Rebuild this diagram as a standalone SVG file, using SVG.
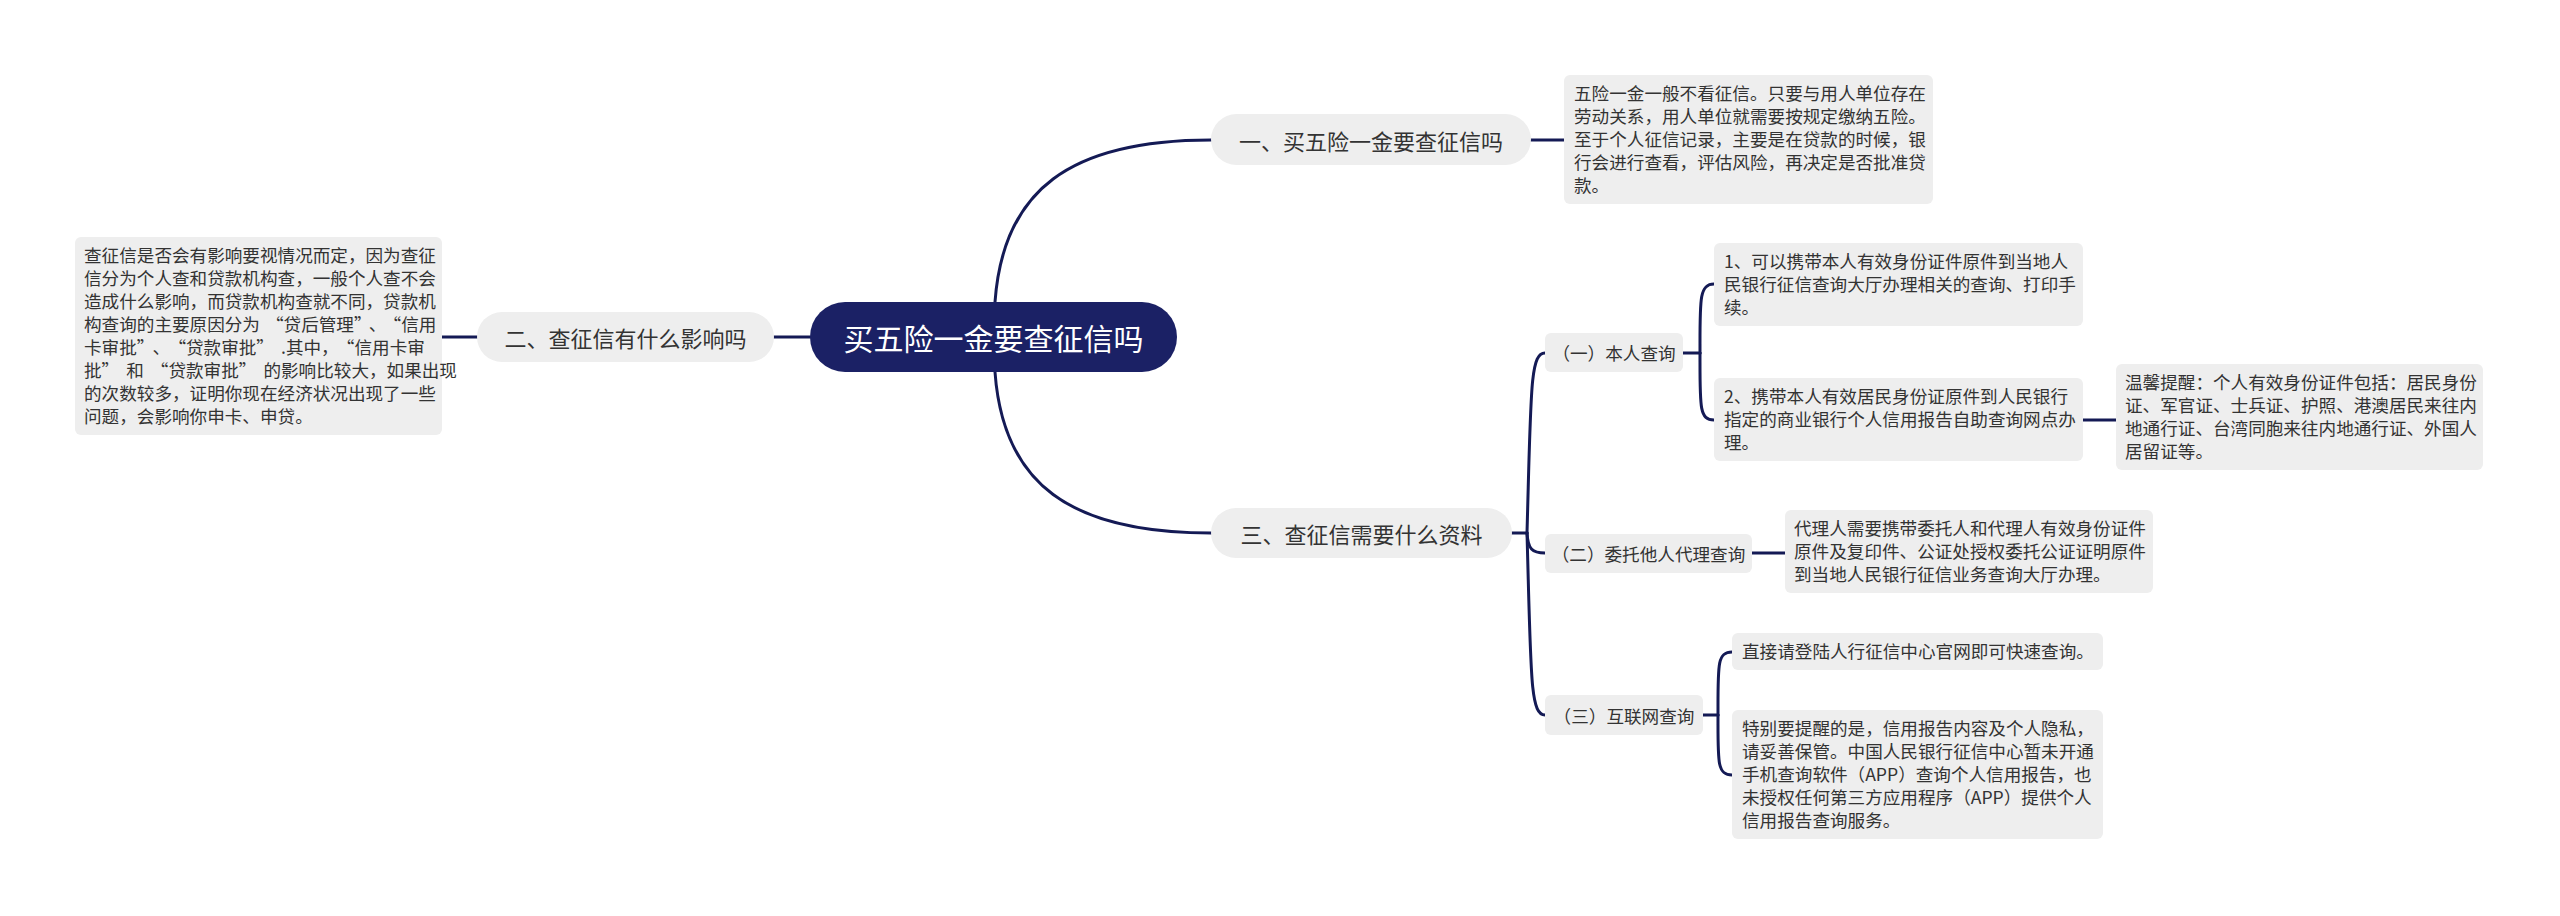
<svg xmlns="http://www.w3.org/2000/svg" width="2560" height="916" viewBox="0 0 2560 916">
<style>
.bg{fill:#ffffff}
.pill{fill:#eeeeee}
.box{fill:#eeeeee}
.root{fill:#1b2165}
.lk{fill:none;stroke:#141a55;stroke-width:3;stroke-linecap:round}
.t1{font-family:"Noto Sans CJK SC","Microsoft YaHei",sans-serif;font-size:22px;fill:#333333}
.t0{font-family:"Noto Sans CJK SC","Microsoft YaHei",sans-serif;font-size:30px;fill:#ffffff}
.t2{font-family:"Noto Sans CJK SC","Microsoft YaHei",sans-serif;font-size:17.6px;fill:#333333}
.tb{font-family:"Noto Sans CJK SC","Microsoft YaHei",sans-serif;font-size:17.6px;fill:#333333}
</style>
<rect class="bg" x="0" y="0" width="2560" height="916"/>
<g id="connectors">
<path class="lk" d="M 995 302 C 1003 190 1070 140 1211 140"/>
<path class="lk" d="M 995 372 C 1003 484 1070 533 1211 533"/>
<path class="lk" d="M 774 337 L 810 337"/>
<path class="lk" d="M 442 337 L 477 337"/>
<path class="lk" d="M 1531 140 L 1564 140"/>
<path class="lk" d="M 1512 533 L 1527 533"/>
<path class="lk" d="M 1527 533 C 1531 390 1530 353 1545 353"/>
<path class="lk" d="M 1527 533 C 1528 549 1532 553 1545 553"/>
<path class="lk" d="M 1527 533 C 1531 676 1530 715 1545 715"/>
<path class="lk" d="M 1683 353 L 1700 353"/>
<path class="lk" d="M 1700 353 C 1700 300 1699 284 1714 284"/>
<path class="lk" d="M 1700 353 C 1700 406 1699 420 1714 420"/>
<path class="lk" d="M 2083 420 L 2116 420"/>
<path class="lk" d="M 1752 553 L 1785 553"/>
<path class="lk" d="M 1703 715 L 1718 715"/>
<path class="lk" d="M 1718 715 C 1718 665 1717 652 1732 652"/>
<path class="lk" d="M 1718 715 C 1718 762 1717 775 1732 775"/>
</g>
<g id="root">
<rect class="root" x="810" y="302" width="367" height="70" rx="35"/>
<text class="t0" x="993.5" y="337" text-anchor="middle" dominant-baseline="central">买五险一金要查征信吗</text>
</g>
<g id="n1">
<rect class="pill" x="1211" y="114" width="320" height="51" rx="25.5"/>
<text class="t1" x="1371" y="139.5" text-anchor="middle" dominant-baseline="central">一、买五险一金要查征信吗</text>
</g>
<g id="n2">
<rect class="pill" x="477" y="312" width="297" height="50" rx="25"/>
<text class="t1" x="625.5" y="337" text-anchor="middle" dominant-baseline="central">二、查征信有什么影响吗</text>
</g>
<g id="n3">
<rect class="pill" x="1211" y="508" width="301" height="50" rx="25"/>
<text class="t1" x="1361.5" y="533" text-anchor="middle" dominant-baseline="central">三、查征信需要什么资料</text>
</g>
<g id="n1d">
<rect class="box" x="1564" y="75" width="369" height="129" rx="6"/>
<text class="tb" x="1574" y="100"><tspan x="1574" y="100">五险一金一般不看征信。只要与用人单位存在</tspan><tspan x="1574" dy="23">劳动关系，用人单位就需要按规定缴纳五险。</tspan><tspan x="1574" dy="23">至于个人征信记录，主要是在贷款的时候，银</tspan><tspan x="1574" dy="23">行会进行查看，评估风险，再决定是否批准贷</tspan><tspan x="1574" dy="23">款。</tspan></text>
</g>
<g id="n2d">
<rect class="box" x="75" y="237" width="367" height="198" rx="6"/>
<text class="tb" x="84" y="262"><tspan x="84" y="262">查征信是否会有影响要视情况而定，因为查征</tspan><tspan x="84" dy="23">信分为个人查和贷款机构查，一般个人查不会</tspan><tspan x="84" dy="23">造成什么影响，而贷款机构查就不同，贷款机</tspan><tspan x="84" dy="23">构查询的主要原因分为<tspan dx="6">“</tspan>贷后管理”<tspan dx="6">、</tspan><tspan dx="6">“</tspan>信用</tspan><tspan x="84" dy="23">卡审批”<tspan dx="7">、</tspan><tspan dx="7">“</tspan>贷款审批”<tspan dx="7">.</tspan>其中，<tspan dx="7">“</tspan>信用卡审</tspan><tspan x="84" dy="23">批”<tspan dx="7">和</tspan><tspan dx="7">“</tspan>贷款审批”<tspan dx="7">的</tspan>影响比较大，如果出现</tspan><tspan x="84" dy="23">的次数较多，证明你现在经济状况出现了一些</tspan><tspan x="84" dy="23">问题，会影响你申卡、申贷。</tspan></text>
</g>
<g id="n31">
<rect class="box" x="1545" y="333" width="138" height="39" rx="6"/>
<text class="t2" x="1614" y="352.5" text-anchor="middle" dominant-baseline="central">（一）本人查询</text>
</g>
<g id="n311">
<rect class="box" x="1714" y="243" width="369" height="83" rx="6"/>
<text class="tb" x="1724" y="268"><tspan x="1724" y="268">1、可以携带本人有效身份证件原件到当地人</tspan><tspan x="1724" dy="23">民银行征信查询大厅办理相关的查询、打印手</tspan><tspan x="1724" dy="23">续。</tspan></text>
</g>
<g id="n312">
<rect class="box" x="1714" y="378" width="369" height="83" rx="6"/>
<text class="tb" x="1724" y="403"><tspan x="1724" y="403">2、携带本人有效居民身份证原件到人民银行</tspan><tspan x="1724" dy="23">指定的商业银行个人信用报告自助查询网点办</tspan><tspan x="1724" dy="23">理。</tspan></text>
</g>
<g id="n3121">
<rect class="box" x="2116" y="364" width="367" height="106" rx="6"/>
<text class="tb" x="2125" y="389"><tspan x="2125" y="389">温馨提醒：个人有效身份证件包括：居民身份</tspan><tspan x="2125" dy="23">证、军官证、士兵证、护照、港澳居民来往内</tspan><tspan x="2125" dy="23">地通行证、台湾同胞来往内地通行证、外国人</tspan><tspan x="2125" dy="23">居留证等。</tspan></text>
</g>
<g id="n32">
<rect class="box" x="1545" y="534" width="207" height="39" rx="6"/>
<text class="t2" x="1648.5" y="553.5" text-anchor="middle" dominant-baseline="central">（二）委托他人代理查询</text>
</g>
<g id="n321">
<rect class="box" x="1785" y="510" width="368" height="83" rx="6"/>
<text class="tb" x="1794" y="535"><tspan x="1794" y="535">代理人需要携带委托人和代理人有效身份证件</tspan><tspan x="1794" dy="23">原件及复印件、公证处授权委托公证证明原件</tspan><tspan x="1794" dy="23">到当地人民银行征信业务查询大厅办理。</tspan></text>
</g>
<g id="n33">
<rect class="box" x="1545" y="695" width="158" height="40" rx="6"/>
<text class="t2" x="1624" y="715" text-anchor="middle" dominant-baseline="central">（三）互联网查询</text>
</g>
<g id="n331">
<rect class="box" x="1732" y="633" width="371" height="37" rx="6"/>
<text class="tb" x="1742" y="658">直接请登陆人行征信中心官网即可快速查询。</text>
</g>
<g id="n332">
<rect class="box" x="1732" y="710" width="371" height="129" rx="6"/>
<text class="tb" x="1742" y="735"><tspan x="1742" y="735">特别要提醒的是，信用报告内容及个人隐私，</tspan><tspan x="1742" dy="23">请妥善保管。中国人民银行征信中心暂未开通</tspan><tspan x="1742" dy="23">手机查询软件（APP）查询个人信用报告，也</tspan><tspan x="1742" dy="23">未授权任何第三方应用程序（APP）提供个人</tspan><tspan x="1742" dy="23">信用报告查询服务。</tspan></text>
</g>
</svg>
